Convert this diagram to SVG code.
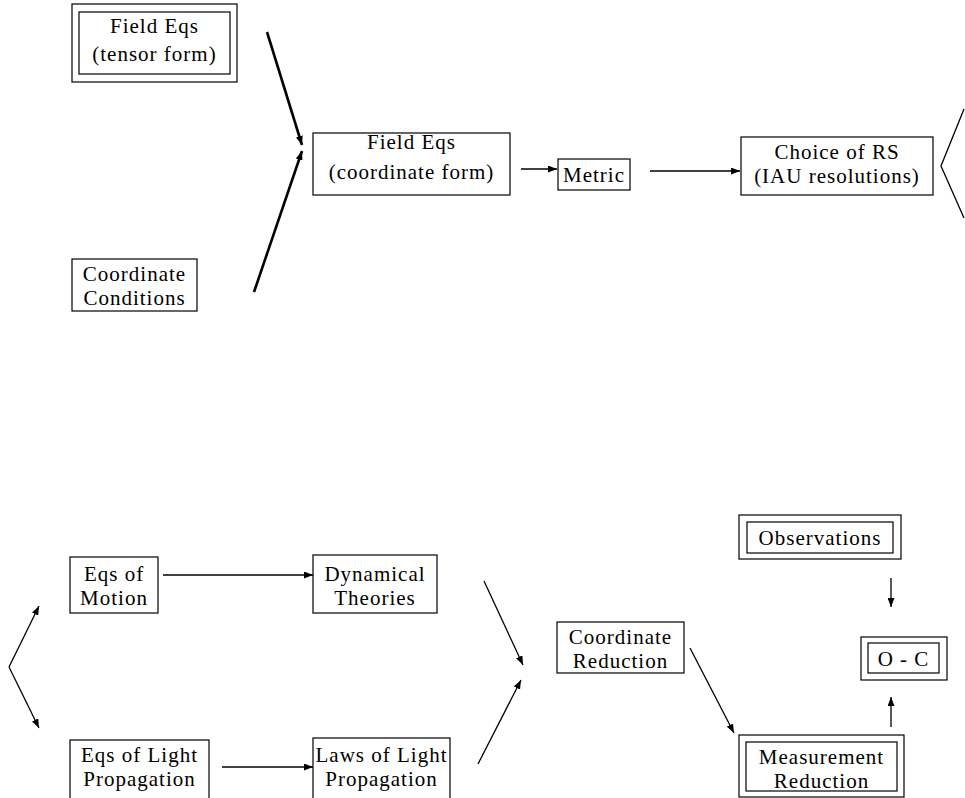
<svg xmlns="http://www.w3.org/2000/svg" width="965" height="798" viewBox="0 0 965 798">
<style>
.bg{fill:#fff}
.box{fill:none;stroke:#000;stroke-width:1.2}
.t{font-family:"Liberation Serif","Times New Roman",serif;font-size:21px;fill:#000;text-anchor:middle;letter-spacing:1px}
.c{fill:none;stroke:#000;stroke-width:1.3}
.thick{fill:none;stroke:#000;stroke-width:2.6}
</style>
<defs>
<marker id="ah" markerUnits="userSpaceOnUse" markerWidth="9" markerHeight="7" refX="9" refY="3.5" orient="auto">
<path d="M0,0 L9,3.5 L0,7 z" fill="#000"/>
</marker>
</defs>
<rect class="bg" x="0" y="0" width="965" height="798"/>

<g id="tensor">
<rect class="box" x="72" y="4" width="165" height="78"/>
<rect class="box" x="79" y="12" width="151" height="62"/>
<text class="t" x="154.5" y="33">Field Eqs</text>
<text class="t" x="154.5" y="61">(tensor form)</text>
</g>

<g id="coordcond">
<rect class="box" x="72" y="259" width="125" height="52"/>
<text class="t" x="134.5" y="281">Coordinate</text>
<text class="t" x="134.5" y="304.5">Conditions</text>
</g>

<g id="coordform">
<rect class="box" x="313" y="133" width="197" height="62"/>
<text class="t" x="411.5" y="149">Field Eqs</text>
<text class="t" x="411.5" y="179">(coordinate form)</text>
</g>

<g id="metric">
<rect class="box" x="558" y="159" width="72" height="31"/>
<text class="t" x="594" y="182">Metric</text>
</g>

<g id="choice">
<rect class="box" x="741" y="137" width="192" height="58"/>
<text class="t" x="837" y="159">Choice of RS</text>
<text class="t" x="837" y="182.5">(IAU resolutions)</text>
</g>

<g id="motion">
<rect class="box" x="70" y="557" width="88" height="56"/>
<text class="t" x="114" y="581">Eqs of</text>
<text class="t" x="114" y="605">Motion</text>
</g>

<g id="dynamical">
<rect class="box" x="313" y="555" width="124" height="58"/>
<text class="t" x="375" y="581">Dynamical</text>
<text class="t" x="375" y="605">Theories</text>
</g>

<g id="eqslight">
<rect class="box" x="70" y="740" width="139" height="60"/>
<text class="t" x="139.5" y="762">Eqs of Light</text>
<text class="t" x="139.5" y="786">Propagation</text>
</g>

<g id="lawslight">
<rect class="box" x="313" y="738" width="137" height="62"/>
<text class="t" x="381.5" y="762">Laws of Light</text>
<text class="t" x="381.5" y="786">Propagation</text>
</g>

<g id="coordred">
<rect class="box" x="557" y="622" width="127" height="51"/>
<text class="t" x="620.5" y="644">Coordinate</text>
<text class="t" x="620.5" y="667.5">Reduction</text>
</g>

<g id="observations">
<rect class="box" x="739" y="515" width="162" height="44"/>
<rect class="box" x="747" y="522" width="146" height="31"/>
<text class="t" x="820" y="545">Observations</text>
</g>

<g id="omc">
<rect class="box" x="861" y="637" width="86" height="43"/>
<rect class="box" x="868" y="643" width="71" height="30"/>
<text class="t" x="903.5" y="666">O - C</text>
</g>

<g id="measurement">
<rect class="box" x="739" y="735" width="165" height="62"/>
<rect class="box" x="746" y="742" width="151" height="49"/>
<text class="t" x="821.5" y="764">Measurement</text>
<text class="t" x="821.5" y="787.5">Reduction</text>
</g>

<g id="connectors">
<line class="thick" x1="267" y1="32" x2="302" y2="145" marker-end="url(#ah)"/>
<line class="thick" x1="254" y1="292" x2="302" y2="151" marker-end="url(#ah)"/>
<line class="c" x1="521" y1="169" x2="557" y2="169" marker-end="url(#ah)"/>
<line class="c" x1="650" y1="171" x2="740" y2="171" marker-end="url(#ah)"/>
<polyline class="c" points="964,109 941,166 964,218"/>
<line class="c" x1="9" y1="667" x2="39" y2="606" marker-end="url(#ah)"/>
<line class="c" x1="9" y1="667" x2="39" y2="728" marker-end="url(#ah)"/>
<line class="c" x1="163" y1="575" x2="313" y2="575" marker-end="url(#ah)"/>
<line class="c" x1="222" y1="767" x2="313" y2="767" marker-end="url(#ah)"/>
<line class="c" x1="484" y1="581" x2="523" y2="665" marker-end="url(#ah)"/>
<line class="c" x1="478" y1="764" x2="521" y2="680" marker-end="url(#ah)"/>
<line class="c" x1="690" y1="648" x2="734" y2="733" marker-end="url(#ah)"/>
<line class="c" x1="891" y1="578" x2="891" y2="607" marker-end="url(#ah)"/>
<line class="c" x1="891" y1="727" x2="891" y2="697" marker-end="url(#ah)"/>
</g>
</svg>
